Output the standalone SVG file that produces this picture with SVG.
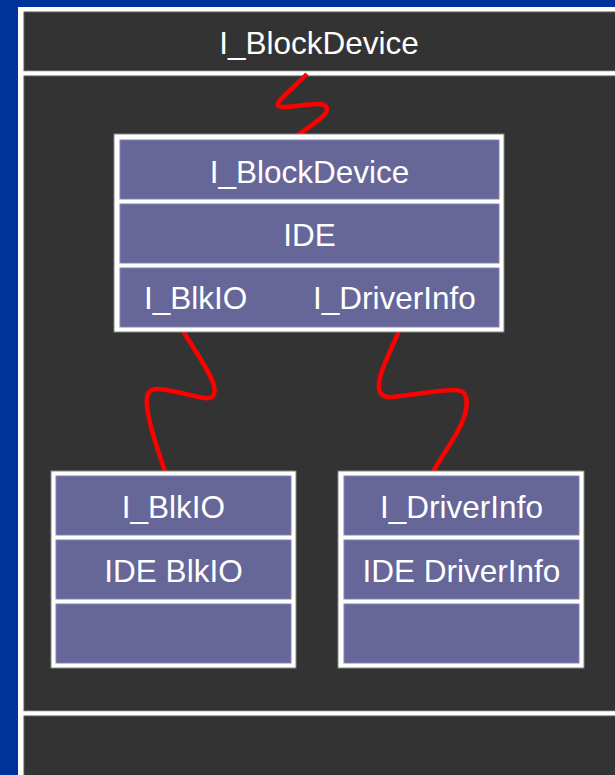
<svg xmlns="http://www.w3.org/2000/svg" width="615" height="775" viewBox="0 0 615 775">
<style>
.panel{fill:#333333;stroke:#5a5a5a;stroke-width:1}
.frame{fill:#ffffff;stroke:#888888;stroke-width:1}
.row{fill:#666699;stroke:#8585b0;stroke-width:1}
.lbl{font-family:"Liberation Sans",Arial,sans-serif;font-size:31.5px;fill:#ffffff}
.c{text-anchor:middle}
.wire{fill:none;stroke:#ff0000;stroke-width:4.5;stroke-linecap:butt;stroke-linejoin:round}
</style>
<rect x="0" y="0" width="615" height="775" fill="#003399"/>
<rect x="18" y="7" width="620" height="780" fill="#ffffff"/>
<g id="top-panel">
<rect class="panel" x="24" y="12" width="600" height="58.7"/>
<text class="lbl c" x="319" y="53.5">I_BlockDevice</text>
</g>
<rect class="panel" x="24" y="76" width="600" height="634.7"/>
<rect class="panel" x="24" y="716" width="600" height="70"/>
<g id="connectors">
<path class="wire" d="M307,74 C299,82 290,90 282,98 C275,105 276,107 286,107 C298,106 310,104 318,104 C328,104 330,110 322,117 C313,125 303,131 295,137"/>
<path class="wire" d="M183,331 C196,352 212,375 214,386 C216,396 212,399 205,398 C190,396 170,389 157,389 C148,389 146,395 147,406 C149,428 160,455 165,472"/>
<path class="wire" d="M399,331 C392,348 380,370 379,383 C378,393 382,398 392,397 C410,395 440,390 455,390 C466,390 468,398 466,410 C462,430 445,450 433,472"/>
</g>
<g id="node-ide">
<rect class="frame" x="114" y="134" width="390" height="198"/>
<rect class="row" x="120" y="140" width="379" height="59"/>
<rect class="row" x="120" y="204" width="379" height="59"/>
<rect class="row" x="120" y="268" width="379" height="59"/>
<text class="lbl c" x="309.5" y="182.5">I_BlockDevice</text>
<text class="lbl c" x="309.5" y="245.7">IDE</text>
<text class="lbl" x="144" y="309.3">I_BlkIO</text>
<text class="lbl" x="313" y="309.3">I_DriverInfo</text>
</g>
<g id="node-blkio">
<rect class="frame" x="51" y="471" width="245" height="197"/>
<rect class="row" x="56" y="476" width="235" height="59"/>
<rect class="row" x="56" y="540" width="235" height="59"/>
<rect class="row" x="56" y="604" width="235" height="59"/>
<text class="lbl c" x="173.5" y="518">I_BlkIO</text>
<text class="lbl c" x="173.5" y="582">IDE BlkIO</text>
</g>
<g id="node-driverinfo">
<rect class="frame" x="338" y="471" width="246" height="197"/>
<rect class="row" x="344" y="476" width="235" height="59"/>
<rect class="row" x="344" y="540" width="235" height="59"/>
<rect class="row" x="344" y="604" width="235" height="59"/>
<text class="lbl c" x="461.5" y="518">I_DriverInfo</text>
<text class="lbl c" x="461.5" y="582">IDE DriverInfo</text>
</g>
</svg>
